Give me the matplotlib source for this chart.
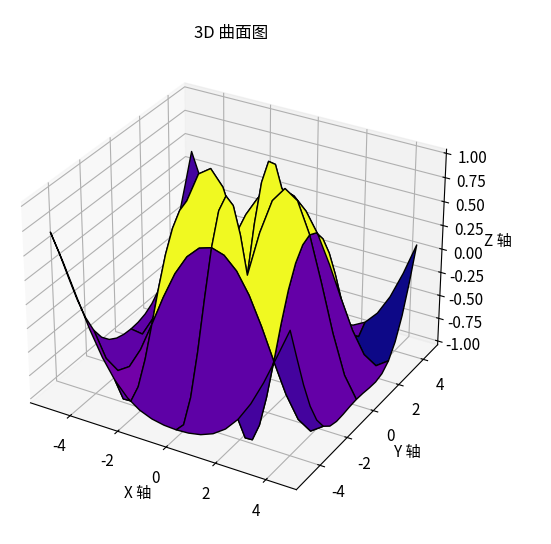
import numpy as np
import matplotlib
matplotlib.use("Agg")
import matplotlib.pyplot as plt

plt.rcParams['font.family'] = ['Noto Sans CJK SC', 'DejaVu Sans']
plt.rcParams['axes.unicode_minus'] = False
plt.rcParams['font.size'] = 11

# grid of the surface z = sin(r)
x_vals = np.arange(-5, 5, 0.5)
y_vals = np.arange(-5, 5, 0.5)
X, Y = np.meshgrid(x_vals, y_vals)
Z = np.sin(np.sqrt(X ** 2 + Y ** 2))

fig = plt.figure(figsize=(5.51, 5.44), dpi=100)
ax = fig.add_axes([-0.02, 0.045, 0.88, 0.87], projection='3d')
ax.plot_surface(X, Y, Z, cmap='plasma', edgecolor='k', rstride=5, cstride=5)
ax.set_title('3D 曲面图', fontsize=12)
ax.set_xlabel('X 轴')
ax.set_ylabel('Y 轴')
ax.set_zlabel('Z 轴')
fig.savefig('out.png')
